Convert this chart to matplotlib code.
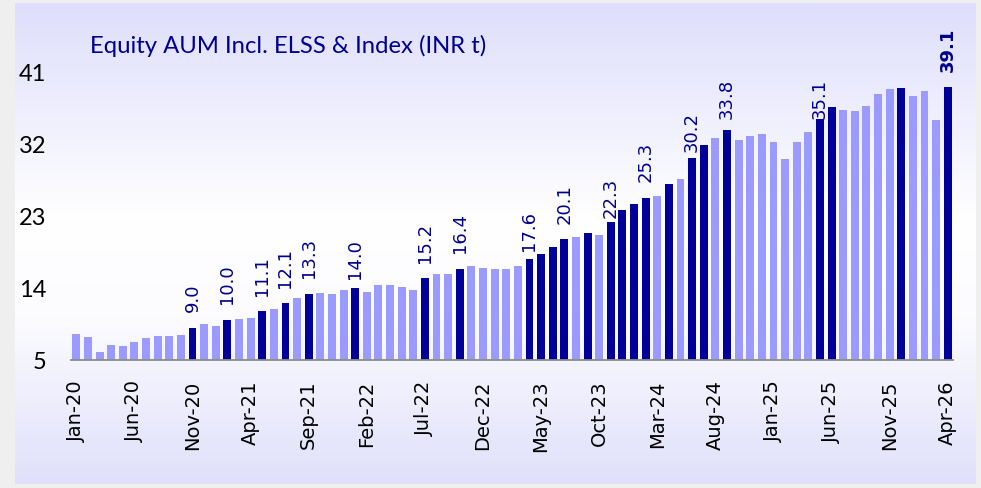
import matplotlib

matplotlib.use("Agg")
import matplotlib.pyplot as plt
import numpy as np
from matplotlib.colors import LinearSegmentedColormap

# 月次の株式AUM(INR兆)、Jan-20 .. Apr-26
months = [f"{m}-{y:02d}" for y in range(20, 27)
          for m in ["Jan", "Feb", "Mar", "Apr", "May", "Jun",
                    "Jul", "Aug", "Sep", "Oct", "Nov", "Dec"]][:76]
aum = [
    8.25, 7.9, 6.0, 6.9, 6.75, 7.3, 7.7, 8.0, 8.0, 8.1,      # Jan-20..Oct-20
    9.0, 9.45, 9.25, 10.0, 10.1, 10.25, 11.1, 11.4, 12.1, 12.7,  # Nov-20..Aug-21
    13.3, 13.4, 13.2, 13.8, 14.0, 13.5, 14.4, 14.4, 14.1, 13.7,  # Sep-21..Jun-22
    15.2, 15.8, 15.7, 16.4, 16.75, 16.5, 16.4, 16.4, 16.8, 17.6,  # Jul-22..Apr-23
    18.25, 19.1, 20.1, 20.4, 20.9, 20.6, 22.3, 23.75, 24.5, 25.3,  # May-23..Feb-24
    25.5, 27.0, 27.6, 30.2, 31.9, 32.7, 33.8, 32.5, 33.0, 33.3,  # Mar-24..Dec-24
    32.2, 30.1, 32.25, 33.5, 35.1, 36.6, 36.3, 36.1, 36.75, 38.3,  # Jan-25..Oct-25
    38.9, 39.0, 38.0, 38.6, 35.0, 39.1,                          # Nov-25..Apr-26
]
dark_idx = [10, 13, 16, 18, 20, 24, 30, 33, 39, 40, 41, 42, 44, 46, 47, 48, 49,
            51, 53, 54, 56, 64, 65, 71, 75]
label_idx = [10, 13, 16, 18, 20, 24, 30, 33, 39, 42, 46, 49, 53, 56, 64, 75]
# ラベルを棒の上からずらす量(pt)。既定以外は隣の棒を避けて詰めてある
label_gap = {24: 7, 39: 6.5, 46: 3.5, 53: 5, 56: 8, 64: 0.8}
yticks = [5, 14, 23, 32, 41]

LIGHT = "#9b9bff"
DARK = "#000099"
NAVY = "#00008f"

fig = plt.figure(figsize=(9.81, 4.89), dpi=100)
fig.patch.set_facecolor("#efefef")

W, H = 981, 489
# 背景パネル(上下ラベンダー、中央白のグラデーション)
bg = fig.add_axes([15 / W, 4 / H, 961 / W, 481 / H])
cmap = LinearSegmentedColormap.from_list(
    "panel", [(0, "#dedefc"), (0.45, "#ffffff"), (0.65, "#fcfcff"), (1, "#e0e0fb")]
)
bg.imshow(np.linspace(0, 1, 256)[:, None], aspect="auto", cmap=cmap,
          extent=[0, 1, 0, 1])
bg.set_axis_off()

ax = fig.add_axes([71 / W, (H - 361) / H, (953 - 71) / W, (361 - 73) / H])
ax.set_facecolor("none")

x = np.arange(len(aum))
colors = [DARK if i in dark_idx else LIGHT for i in x]
ax.bar(x, np.array(aum) - 5, bottom=5, width=0.68, color=colors, zorder=2)

for i in label_idx:
    ax.annotate(
        f"{aum[i]:.1f}",
        (x[i], aum[i]),
        xytext=(0, label_gap.get(i, 12)),
        textcoords="offset points",
        rotation=90,
        ha="center",
        va="bottom",
        fontsize=13,
        color=NAVY,
        fontweight="bold" if i == 75 else "normal",
        family="DejaVu Sans",
        annotation_clip=False,
    )

ax.set_xlim(-0.46, 75.45)
ax.set_ylim(5, 41)
ax.set_yticks(yticks)
ax.set_yticklabels([str(v) for v in yticks], family="Lato", fontsize=17)
ax.set_xticks(x[::5])
ax.set_xticklabels([months[i] for i in x[::5]], rotation=90, fontsize=14,
                   family="DejaVu Sans")
ax.tick_params(axis="y", length=0, pad=18)
ax.tick_params(axis="x", length=0, pad=14)
for s in ("top", "right", "left"):
    ax.spines[s].set_visible(False)
ax.spines["bottom"].set_color("#8c8c8c")
ax.spines["bottom"].set_linewidth(1.3)
ax.spines["bottom"].set_zorder(3)

fig.text(90 / W, 1 - 46 / H, "Equity AUM Incl. ELSS & Index (INR t)",
         family="Lato", fontsize=17.2, color=NAVY, va="center", ha="left")

fig.savefig("out.png", dpi=100)
